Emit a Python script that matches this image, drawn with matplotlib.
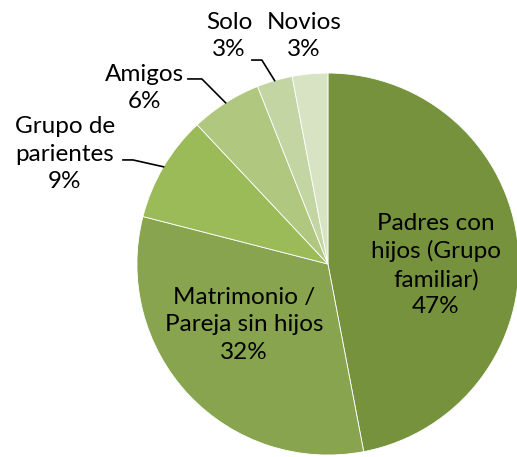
import matplotlib.pyplot as plt
import numpy as np

categories = ["Padres con\nhijos (Grupo\nfamiliar)", "Matrimonio /\nPareja sin hijos",
              "Grupo de\nparientes", "Amigos", "Solo", "Novios"]
values = [47, 32, 9, 6, 3, 3]
colors = ["#76923C", "#88A44E", "#9BBB59", "#AFC77F", "#C3D5A2", "#D7E3C3"]

# label centres (data units, pie radius = 1)
label_pos = [(0.565, -0.005), (-0.44, -0.319), (-1.377, 0.576),
             (-0.958, 0.921), (-0.518, 1.194), (-0.126, 1.194)]
# leader lines: (elbow x, end x, y) or None
leaders = [None, None, (-1.021, -1.073, 0.545), (-0.660, -0.733, 0.969),
           (-0.346, -0.398, 1.068), None]

plt.rcParams['font.family'] = ['Lato', 'DejaVu Sans']

fig = plt.figure(figsize=(5.17, 4.57), dpi=100)
ax = fig.add_axes([0, 0, 1, 1])
wedges, _ = ax.pie(values, colors=colors, startangle=90, counterclock=False,
                   radius=1, wedgeprops=dict(edgecolor="white", linewidth=0.6))
ax.set_xlim(-1.717, 0.990)
ax.set_ylim(-1.010, 1.382)
ax.set_aspect("equal")
ax.axis("off")

for w, cat, v, pos, ld in zip(wedges, categories, values, label_pos, leaders):
    ax.text(pos[0], pos[1], "{}\n{}%".format(cat, v), ha="center", va="center",
            fontsize=17.5, linespacing=1.36, color="black")
    if ld is not None:
        mid = np.deg2rad((w.theta1 + w.theta2) / 2)
        ax.plot([np.cos(mid), ld[0], ld[1]], [np.sin(mid), ld[2], ld[2]],
                color="black", linewidth=1.2)

fig.savefig("out.png", dpi=100)
